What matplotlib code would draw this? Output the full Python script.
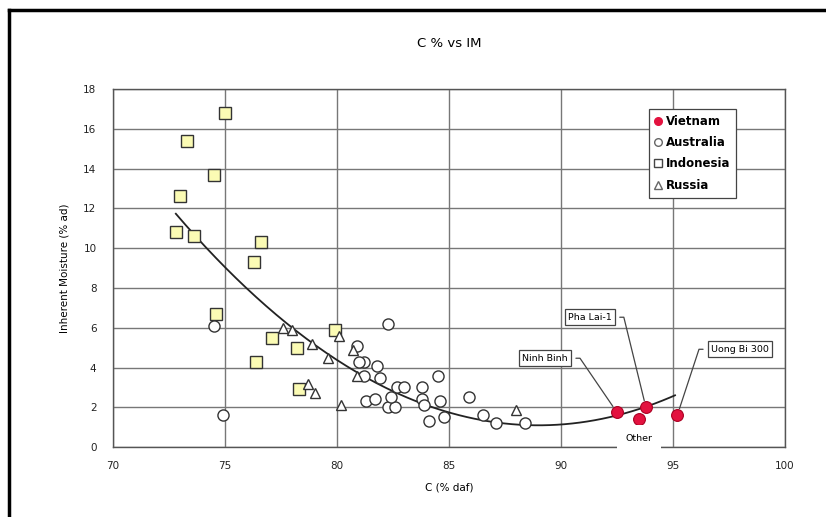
import matplotlib.pyplot as plt
import numpy as np
from matplotlib.lines import Line2D

# ---- data ----
vn_x = [92.5, 93.8, 93.5, 95.2]
vn_y = [1.76, 2.0, 1.4, 1.6]

au_x = [74.5, 74.9, 82.3, 80.9, 81.2, 81.8, 81.9, 84.5, 85.9, 82.7, 83.0, 83.8,
        81.3, 81.7, 82.3, 82.6, 83.8, 83.9, 84.6, 84.1, 84.8, 86.5, 87.1, 88.4,
        82.4, 81.0, 81.2]
au_y = [6.1, 1.6, 6.2, 5.1, 4.3, 4.1, 3.5, 3.6, 2.5, 3.0, 3.0, 3.0,
        2.3, 2.4, 2.0, 2.0, 2.4, 2.1, 2.3, 1.3, 1.5, 1.6, 1.2, 1.2,
        2.5, 4.3, 3.6]

id_x = [75.0, 73.3, 74.5, 73.0, 72.8, 73.6, 76.6, 76.3, 74.6, 76.4, 77.1, 78.2,
        79.9, 78.3]
id_y = [16.8, 15.4, 13.7, 12.6, 10.8, 10.6, 10.3, 9.3, 6.7, 4.3, 5.5, 5.0,
        5.9, 2.9]

ru_x = [77.6, 78.0, 78.9, 79.6, 80.1, 80.7, 80.9, 78.7, 79.0, 80.2, 88.0]
ru_y = [6.0, 5.9, 5.2, 4.5, 5.6, 4.9, 3.6, 3.2, 2.7, 2.1, 1.85]

# polynomial trendline (vertex form) and its x range
trend_a, trend_h, trend_k = 0.0405, 89.0, 1.10
trend_x0, trend_x1 = 72.8, 95.1

# point labels: text, labelled point, label position, side the leader leaves from
labels = ["Ninh Binh", "Pha Lai-1", "Uong Bi 300"]
label_pts = [(92.5, 1.76), (93.8, 2.0), (95.2, 1.6)]
label_pos = [(89.3, 4.47), (91.3, 6.53), (98.0, 4.92)]
label_side = ['right', 'right', 'left']
other_label = "Other"
other_pos = (93.5, 0.45)

red = '#e3123f'
yellow = '#fbfbb4'
edge = '#333333'

fig = plt.figure(figsize=(8.26, 5.17), dpi=100)
ax = fig.add_axes([0.137, 0.135, 0.813, 0.693])

ax.grid(True, color='#777777', lw=1.0)
ax.set_axisbelow(True)

tx = np.linspace(trend_x0, trend_x1, 200)
ax.plot(tx, trend_a * (tx - trend_h) ** 2 + trend_k, color='#222222', lw=1.3, zorder=3)

ax.plot(id_x, id_y, 's', ms=8.5, mfc=yellow, mec=edge, mew=1.0, zorder=4)
ax.plot(au_x, au_y, 'o', ms=8, mfc='white', mec=edge, mew=1.0, zorder=4)
ax.plot(ru_x, ru_y, '^', ms=7.5, mfc='white', mec=edge, mew=1.0, zorder=4)
ax.plot(vn_x, vn_y, 'o', ms=8.5, mfc=red, mec='#aa0022', mew=0.8, zorder=5)

for txt, pt, pos, side in zip(labels, label_pts, label_pos, label_side):
    ang = 0 if side == 'right' else 180
    rel = (1, 0.5) if side == 'right' else (0, 0.5)
    ax.annotate(txt, xy=pt, xytext=pos, ha='center', va='center', fontsize=6.8,
                bbox=dict(boxstyle='square,pad=0.35', fc='white', ec='#444444', lw=0.9),
                arrowprops=dict(arrowstyle='-', color='#444444', lw=0.9, shrinkA=3, shrinkB=5,
                                relpos=rel,
                                connectionstyle=f'arc,angleA={ang},armA=12,angleB=90,armB=0,rad=0'),
                zorder=6)
ax.text(other_pos[0], other_pos[1], other_label, ha='center', va='center', fontsize=6.8,
        bbox=dict(boxstyle='square,pad=0.9', fc='white', ec='none'), zorder=6, clip_on=False)

ax.set_xlim(70, 100)
ax.set_ylim(0, 18)
ax.set_xticks(range(70, 101, 5))
ax.set_yticks(range(0, 19, 2))
ax.tick_params(length=0, labelsize=7.5, colors='#222222')
ax.tick_params(axis='y', pad=12)
ax.tick_params(axis='x', pad=10)
for s in ax.spines.values():
    s.set_color('#555555')
    s.set_linewidth(1.0)

ax.set_xlabel('C (% daf)', fontsize=7.5, labelpad=8)
ax.set_ylabel('Inherent Moisture (% ad)', fontsize=7.5, labelpad=10)
ax.set_title('C % vs IM', fontsize=9.5, pad=30)

handles = [
    Line2D([], [], ls='none', marker='o', ms=5.5, mfc=red, mec=red),
    Line2D([], [], ls='none', marker='o', ms=5.5, mfc='white', mec='#666666'),
    Line2D([], [], ls='none', marker='s', ms=5.5, mfc='white', mec='#444444'),
    Line2D([], [], ls='none', marker='^', ms=5.5, mfc='white', mec='#666666'),
]
leg = ax.legend(handles, ['Vietnam', 'Australia', 'Indonesia', 'Russia'],
                loc='upper left', bbox_to_anchor=(0.798, 0.944), fancybox=False,
                edgecolor='#444444', framealpha=1, handlelength=0.6, handletextpad=0.3,
                borderpad=0.5, labelspacing=0.7, borderaxespad=0,
                prop={'size': 8.5, 'weight': 'bold'})
leg.get_frame().set_linewidth(0.9)
leg.set_zorder(7)

# outer chart border (left and top visible)
fig.add_artist(Line2D([0.011, 0.011], [0, 0.981], color='black', lw=2.5))
fig.add_artist(Line2D([0.011, 1], [0.981, 0.981], color='black', lw=2.5))

fig.savefig('out.png', dpi=100)
